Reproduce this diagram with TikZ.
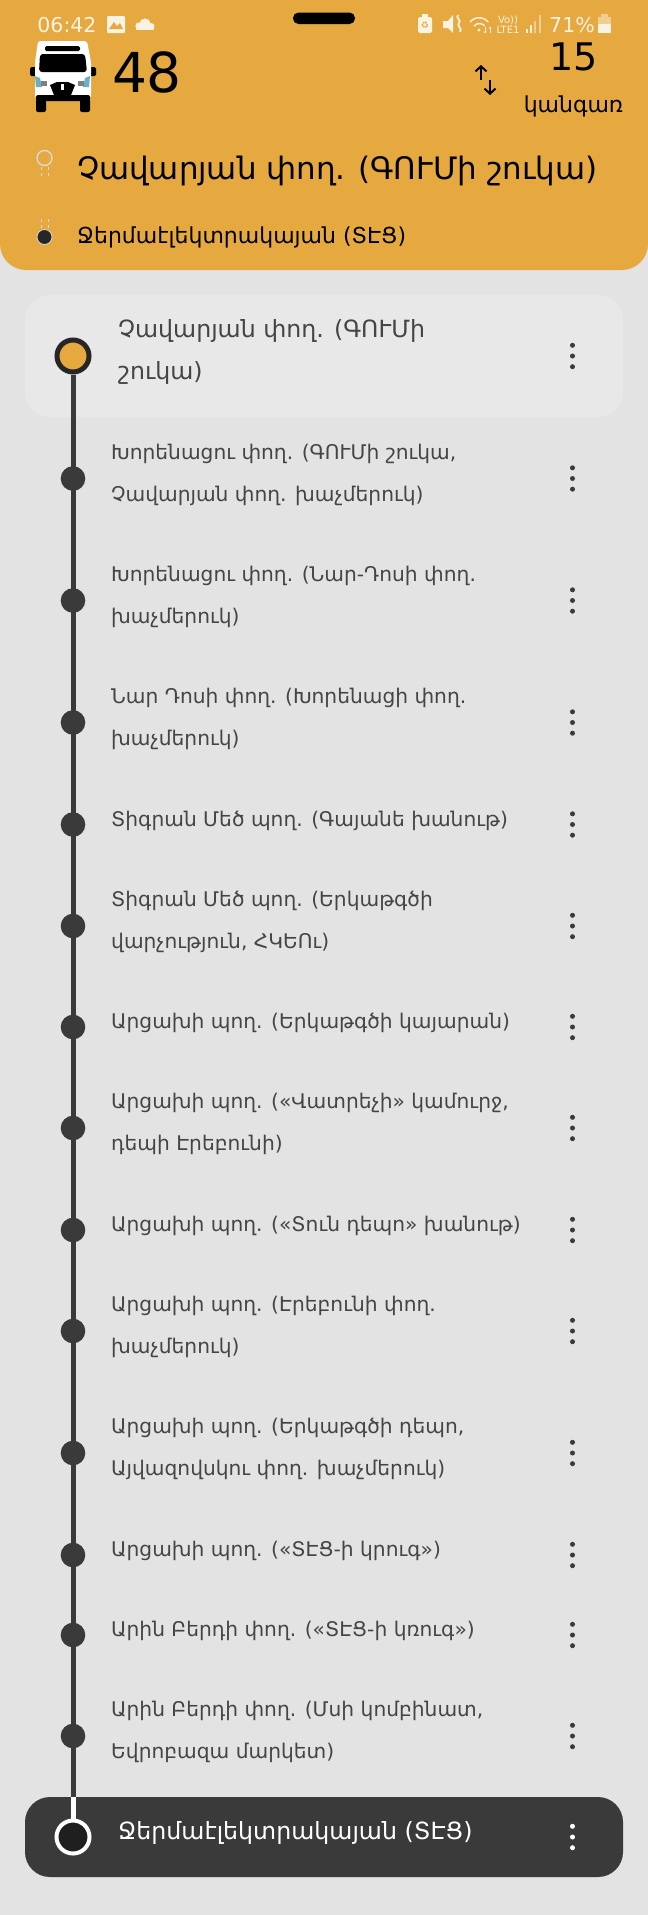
\documentclass[tikz,border=0pt]{standalone}
\usepackage{fontspec}
\setmainfont{DejaVu Sans}
\usetikzlibrary{arrows,arrows.meta,calc,positioning,shapes}
\definecolor{HeadOrange}{HTML}{E5A93F}
\definecolor{PageGray}{HTML}{E3E3E3}
\definecolor{PanelGray}{HTML}{E8E8E8}
\definecolor{DarkLine}{HTML}{3A3A3A}
\definecolor{StopInk}{HTML}{454545}
\definecolor{SoftWhite}{HTML}{FBF3E2}
\tikzstyle{stopdot} = [circle, fill=DarkLine, inner sep=0pt, minimum size=24.6pt]
\tikzstyle{stoptext} = [anchor=west, align=left, inner sep=0pt, text=StopInk, font=\fontsize{20.2}{42}\selectfont]
\tikzstyle{bigtext} = [anchor=west, align=left, inner sep=0pt, text=StopInk, font=\fontsize{23.7}{42}\selectfont]
\tikzstyle{status} = [inner sep=0pt, text=SoftWhite]
\def\kebab(#1,#2,#3){\fill[#3] (#1,#2-10.7) circle(2.5); \fill[#3] (#1,#2) circle(2.5); \fill[#3] (#1,#2+10.7) circle(2.5);}
\begin{document}
\begin{tikzpicture}[x=1pt,y=-1pt]
\useasboundingbox (0,0) rectangle (648,1915);
\fill[PageGray] (0,0) rectangle (648,1915);
\fill[HeadOrange, rounded corners=26pt] (0,-30) rectangle (648,270);
\fill[HeadOrange, rounded corners=20pt] (0,0) rectangle (648,60);
% status bar
\node[status, font=\fontsize{20.5}{20}\selectfont] (clock) at (67,25) {06:42};
\fill[SoftWhite, rounded corners=1pt] (107,16) rectangle (125,33);
\fill[HeadOrange] (109,29) -- (114,22) -- (117,26) -- (120,23) -- (123,29) -- cycle;
\fill[SoftWhite] (136,30) rectangle (154,25);
\fill[SoftWhite] (139,26) circle(3.6);
\fill[SoftWhite] (145,24) circle(5.6);
\fill[SoftWhite] (151,26.5) circle(3.5);
\fill[black, rounded corners=5.5pt] (293,12.5) rectangle (355,24);
\fill[SoftWhite, rounded corners=1.5pt] (418,17) rectangle (432,33);
\fill[SoftWhite] (422,14) rectangle (428,17);
\node[inner sep=0pt, text=HeadOrange, font=\fontsize{9}{9}\selectfont] (saver) at (425,25) {♻};
\fill[SoftWhite] (443,21) -- (448,21) -- (453,15) -- (453,33) -- (448,28) -- (443,28) -- cycle;
\draw[SoftWhite, line width=1.8pt] (458,15) .. controls (455,18) and (462,20) .. (459,23) .. controls (456,26) and (463,28) .. (460,32);
\draw[SoftWhite, line width=1.4pt] (470,22) arc(220:320:12);
\draw[SoftWhite, line width=1.4pt] (474,26) arc(220:320:7);
\fill[SoftWhite] (479,30) circle(1.6);
\draw[SoftWhite, line width=0.8pt, -{To[length=1.5pt]}] (485,27) -- (485,33);
\draw[SoftWhite, line width=0.8pt, -{To[length=1.5pt]}] (490,33) -- (490,27);
\node[status, font=\fontsize{10}{10}\selectfont] (volte) at (508,20) {Vo))};
\node[status, font=\fontsize{10}{10}\selectfont] (lte) at (508,30) {LTE1};
\fill[SoftWhite] (526,29) rectangle (528,33);
\fill[SoftWhite] (530,25) rectangle (532,33);
\fill[SoftWhite, opacity=0.5] (534,21) rectangle (536,33);
\fill[SoftWhite, opacity=0.5] (539,15) rectangle (541,33);
\node[status, font=\fontsize{20.5}{20}\selectfont] (charge) at (572,25) {71\%};
\fill[SoftWhite, opacity=0.5] (598,17) rectangle (611,24);
\fill[SoftWhite, opacity=0.5] (601,14) rectangle (608,17);
\fill[SoftWhite] (598,24) rectangle (611,33);
% bus
\fill[black, rounded corners=1.5pt] (30,67) rectangle (37,76);
\fill[black, rounded corners=1.5pt] (89,67) rectangle (96,76);
\fill[white, rounded corners=2pt] (38,41) -- (87,41) -- (91,62) -- (91,98) -- (35,98) -- (35,62) -- cycle;
\fill[black, rounded corners=1.5pt] (45,46) rectangle (80,51);
\fill[black, rounded corners=3pt] (40,54) -- (85,54) -- (87,72) -- (39,72) -- cycle;
\fill[cyan!70!black!70!white] (35,76) -- (40,78) -- (42,87) -- (36,87) -- cycle;
\fill[cyan!70!black!70!white] (90,76) -- (85,78) -- (83,87) -- (89,87) -- cycle;
\fill[black] (50,85) -- (57,82) -- (68,82) -- (75,85) -- (71,95) -- (54,95) -- cycle;
\fill[gray] (41,81) rectangle (47,86);
\fill[gray] (78,81) rectangle (84,86);
\fill[white] (61,84) rectangle (64,90);
\fill[black, rounded corners=2pt] (36,95) rectangle (90,101);
\fill[black, rounded corners=2pt] (36,99) rectangle (46,112);
\fill[black, rounded corners=2pt] (80,99) rectangle (90,112);
% header texts
\node[inner sep=0pt, font=\fontsize{55}{55}\selectfont] (line) at (147,72) {48};
\node[inner sep=0pt, font=\fontsize{38}{38}\selectfont] (count) at (574,57) {15};
\node[inner sep=0pt, font=\fontsize{22}{22}\selectfont] (unit) at (573.5,106) {կանգառ};
\coordinate (upa) at (481,80);
\coordinate (upb) at (481,65);
\coordinate (downa) at (490,80);
\coordinate (downb) at (490,95);
\draw[line width=2pt, -{Straight Barb[length=5pt,width=11pt]}] (upa) -- (upb);
\draw[line width=2pt, -{Straight Barb[length=5pt,width=11pt]}] (downa) -- (downb);
\node[anchor=west, inner sep=0pt, font=\fontsize{30.9}{31}\selectfont] (from) at (77,171) {Չավարյան փող. (ԳՈՒՄի շուկա)};
\node[anchor=west, inner sep=0pt, font=\fontsize{22}{22}\selectfont] (to) at (77,237.5) {Ջերմաէլեկտրակայան (ՏԷՑ)};
\draw[gray!30!white, line width=1.4pt] (44.5,158) circle(7.5);
\draw[gray!30!white, line width=0.5pt, dashed] (41,167) -- (41,176);
\draw[gray!30!white, line width=0.5pt, dashed] (48,167) -- (48,176);
\draw[gray!30!white, line width=0.5pt, dashed] (41,219) -- (41,229);
\draw[gray!30!white, line width=0.5pt, dashed] (48,219) -- (48,229);
\draw[fill=black!85!white, draw=gray!30!white, line width=0.8pt] (44.5,237) circle(7.5);
% panels
\fill[PanelGray, rounded corners=25pt] (25,295) rectangle (623,417);
\fill[DarkLine, rounded corners=25pt] (25,1797) rectangle (623,1877);
% stops
\node[circle, draw=black!85!white, fill=HeadOrange, line width=5pt, inner sep=0pt, minimum size=32pt] (s1) at (73,356) {};
\node[stopdot] (s2) at (73,478.5) {};
\node[stopdot] (s3) at (73,600.5) {};
\node[stopdot] (s4) at (73,722.5) {};
\node[stopdot] (s5) at (73,824.5) {};
\node[stopdot] (s6) at (73,926) {};
\node[stopdot] (s7) at (73,1027) {};
\node[stopdot] (s8) at (73,1128) {};
\node[stopdot] (s9) at (73,1230) {};
\node[stopdot] (s10) at (73,1331) {};
\node[stopdot] (s11) at (73,1453) {};
\node[stopdot] (s12) at (73,1555) {};
\node[stopdot] (s13) at (73,1635) {};
\node[stopdot] (s14) at (73,1736) {};
\node[circle, draw=white, fill=black!88!white, line width=4pt, inner sep=0pt, minimum size=33pt] (s15) at (73,1837) {};
\coordinate (edge) at (73,1797);
\draw[DarkLine, line width=5pt] (s1) -- (edge);
\draw[white, line width=5pt] (edge) -- (s15);
\node[bigtext] (t1) at (118,352) {Չավարյան փող. (ԳՈՒՄի\\շուկա)};
\node[stoptext] (t2) at (111,474.5) {Խորենացու փող. (ԳՈՒՄի շուկա,\\Չավարյան փող. խաչմերուկ)};
\node[stoptext] (t3) at (111,596.5) {Խորենացու փող. (Նար-Դոսի փող.\\խաչմերուկ)};
\node[stoptext] (t4) at (111,718.5) {Նար Դոսի փող. (Խորենացի փող.\\խաչմերուկ)};
\node[stoptext] (t5) at (111,820.5) {Տիգրան Մեծ պող. (Գայանե խանութ)};
\node[stoptext] (t6) at (111,922) {Տիգրան Մեծ պող. (Երկաթգծի\\վարչություն, ՀԿԵՈւ)};
\node[stoptext] (t7) at (111,1023) {Արցախի պող. (Երկաթգծի կայարան)};
\node[stoptext] (t8) at (111,1124) {Արցախի պող. («Վատրեչի» կամուրջ,\\դեպի Էրեբունի)};
\node[stoptext] (t9) at (111,1226) {Արցախի պող. («Տուն դեպո» խանութ)};
\node[stoptext] (t10) at (111,1327) {Արցախի պող. (Էրեբունի փող.\\խաչմերուկ)};
\node[stoptext] (t11) at (111,1449) {Արցախի պող. (Երկաթգծի դեպո,\\Այվազովսկու փող. խաչմերուկ)};
\node[stoptext] (t12) at (111,1551) {Արցախի պող. («ՏԷՑ-ի կրուգ»)};
\node[stoptext] (t13) at (111,1631) {Արին Բերդի փող. («ՏԷՑ-ի կռուգ»)};
\node[stoptext] (t14) at (111,1732) {Արին Բերդի փող. (Մսի կոմբինատ,\\Եվրոբազա մարկետ)};
\node[bigtext, text=white] (t15) at (118,1832.5) {Ջերմաէլեկտրակայան (ՏԷՑ)};
% menus
\kebab(572.5,356,DarkLine)
\kebab(572.5,478.5,DarkLine)
\kebab(572.5,600.5,DarkLine)
\kebab(572.5,722.5,DarkLine)
\kebab(572.5,824.5,DarkLine)
\kebab(572.5,926,DarkLine)
\kebab(572.5,1027,DarkLine)
\kebab(572.5,1128,DarkLine)
\kebab(572.5,1230,DarkLine)
\kebab(572.5,1331,DarkLine)
\kebab(572.5,1453,DarkLine)
\kebab(572.5,1555,DarkLine)
\kebab(572.5,1635,DarkLine)
\kebab(572.5,1736,DarkLine)
\kebab(572.5,1837,white)
\end{tikzpicture}
\end{document}
